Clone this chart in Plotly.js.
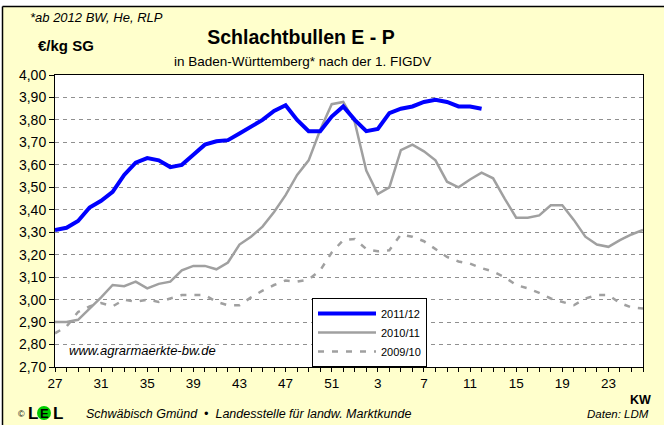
<!DOCTYPE html>
<html>
<head>
<meta charset="utf-8">
<script src="https://cdn.plot.ly/plotly-3.0.1.min.js"></script>
<style>html,body{margin:0;padding:0;background:#fff;}#chart{width:664px;height:425px;}</style>
</head>
<body>
<div id="chart"></div>
<script>
// Calendar weeks (KW) from week 27 to week 26 of the following year
const weeks = ["27","28","29","30","31","32","33","34","35","36","37","38","39","40","41","42","43","44","45","46","47","48","49","50","51","52",
               "1","2","3","4","5","6","7","8","9","10","11","12","13","14","15","16","17","18","19","20","21","22","23","24","25","26"];
const labelledWeeks = ["27","31","35","39","43","47","51","3","7","11","15","19","23"];

const seriesNames = ["2011/12", "2010/11", "2009/10"];

// 2011/12 (until KW 12)
const s2011 = [3.31,3.32,3.35,3.41,3.44,3.48,3.555,3.61,3.63,3.62,3.59,3.60,3.645,3.69,3.705,3.71,3.74,3.77,3.80,3.84,3.865,3.80,3.75,3.75,3.815,3.86,
               3.80,3.75,3.76,3.83,3.85,3.86,3.88,3.89,3.88,3.86,3.86,3.85];
// 2010/11
const s2010 = [2.90,2.90,2.91,2.96,3.01,3.065,3.06,3.08,3.05,3.07,3.08,3.13,3.15,3.15,3.135,3.165,3.245,3.28,3.325,3.39,3.465,3.555,3.62,3.755,3.87,3.88,
               3.79,3.575,3.47,3.50,3.665,3.69,3.66,3.62,3.525,3.50,3.535,3.565,3.54,3.45,3.365,3.365,3.375,3.42,3.42,3.355,3.28,3.245,3.235,3.265,3.29,3.31];
// 2009/10
const s2009 = [2.85,2.88,2.945,2.97,2.985,2.97,3.00,2.99,3.00,2.99,3.005,3.02,3.02,3.02,2.99,2.975,2.975,3.01,3.04,3.065,3.085,3.08,3.09,3.13,3.21,3.265,
               3.27,3.225,3.215,3.22,3.29,3.28,3.26,3.225,3.19,3.17,3.16,3.14,3.125,3.10,3.065,3.05,3.03,3.005,2.99,2.975,3.005,3.02,3.02,2.985,2.965,2.96];

const yTicks = [2.70,2.80,2.90,3.00,3.10,3.20,3.30,3.40,3.50,3.60,3.70,3.80,3.90,4.00];

// ---- layout geometry helpers ----
const W = 664, H = 425, L = 55, R = 643, T = 75, B = 367;
const px = x => (x - L) / (R - L);
const py = y => (B - y) / (B - T);
const FONT = "Liberation Sans, Arial, sans-serif";

const traces = [
  {x: weeks.slice(0, s2009.length), y: s2009, name: seriesNames[2], type: "scatter", mode: "lines",
   line: {color: "#a0a0a0", width: 2.5, dash: "6px,8px"}},
  {x: weeks.slice(0, s2010.length), y: s2010, name: seriesNames[1], type: "scatter", mode: "lines",
   line: {color: "#a0a0a0", width: 2.5}},
  {x: weeks.slice(0, s2011.length), y: s2011, name: seriesNames[0], type: "scatter", mode: "lines",
   line: {color: "#0000ff", width: 4}}
];

const tickText = weeks.map(w => labelledWeeks.includes(w) ? w : "");

const ann = (text, x, y, opts) => Object.assign({
  text: text, xref: "paper", yref: "paper", x: px(x), y: py(y), showarrow: false,
  xanchor: "left", yanchor: "middle", font: {family: FONT, size: 11, color: "#000"}
}, opts || {});

const layout = {
  width: W, height: H,
  margin: {l: L, r: W - R, t: T, b: H - B, pad: 0},
  paper_bgcolor: "#ffffcc",
  plot_bgcolor: "#ffffff",
  separators: ",.",
  showlegend: true,
  title: {
    text: "<b>Schlachtbullen E - P</b>",
    font: {family: FONT, size: 19.5, color: "#000"},
    xref: "paper", x: px(301), xanchor: "center",
    yref: "container", y: 1 - 37 / H, yanchor: "middle"
  },
  xaxis: {
    type: "category",
    range: [0, weeks.length - 1],
    tickmode: "array", tickvals: weeks, ticktext: tickText,
    ticks: "outside", ticklen: 4, tickcolor: "#000", tickwidth: 1,
    showline: true, linecolor: "#000", linewidth: 1, mirror: true,
    showgrid: false, zeroline: false,
    tickfont: {family: FONT, size: 13.5, color: "#000"},
    fixedrange: true
  },
  yaxis: {
    range: [2.70, 4.00],
    tickmode: "array", tickvals: yTicks, tickformat: ".2f",
    ticks: "outside", ticklen: 5, tickcolor: "#000", tickwidth: 1,
    showline: true, linecolor: "#000", linewidth: 1, mirror: true,
    showgrid: true, gridcolor: "#909090", gridwidth: 1, griddash: "4px,4px",
    zeroline: false,
    tickfont: {family: FONT, size: 14, color: "#000"},
    fixedrange: true
  },
  legend: {
    x: px(312), y: py(298), xanchor: "left", yanchor: "top",
    bgcolor: "#ffffff", bordercolor: "#000", borderwidth: 1,
    traceorder: "reversed",
    font: {family: FONT, size: 11, color: "#000"},
    itemwidth: 58, tracegroupgap: 0
  },
  shapes: [
    // white margin strips and black frame (top and left)
    {type: "rect", xref: "paper", yref: "paper", x0: px(-5), x1: px(W + 5), y0: py(6.5), y1: py(-5),
     fillcolor: "#ffffff", line: {width: 0}, layer: "below"},
    {type: "rect", xref: "paper", yref: "paper", x0: px(-5), x1: px(2.5), y0: py(H + 5), y1: py(-5),
     fillcolor: "#ffffff", line: {width: 0}, layer: "below"},
    {type: "line", xref: "paper", yref: "paper", x0: px(2.5), x1: px(W + 5), y0: py(6.5), y1: py(6.5),
     line: {color: "#000", width: 1.5}},
    {type: "line", xref: "paper", yref: "paper", x0: px(2.5), x1: px(2.5), y0: py(6.5), y1: py(H + 5),
     line: {color: "#000", width: 1.5}},
    // LEL logo circle
    {type: "circle", xref: "paper", yref: "paper", x0: px(37), x1: px(51), y0: py(406), y1: py(420),
     fillcolor: "#00cc00", line: {width: 0}}
  ],
  annotations: [
    ann("<i>*ab 2012 BW, He, RLP</i>", 28, 17, {font: {family: FONT, size: 13, color: "#000"}}),
    ann("<b>€/kg SG</b>", 36, 46, {font: {family: FONT, size: 15, color: "#000"}}),
    ann("in Baden-Württemberg* nach der 1. FIGDV", 302, 61, {xanchor: "center", font: {family: FONT, size: 13.5, color: "#000"}}),
    ann("<i>www.agrarmaerkte-bw.de</i>", 67, 350, {font: {family: FONT, size: 13, color: "#000"}}),
    ann("©", 16, 414, {font: {family: FONT, size: 9, color: "#000"}}),
    ann("<b>L</b>", 26, 413, {font: {family: FONT, size: 17, color: "#000"}}),
    ann("<b>E</b>", 44, 413, {xanchor: "center", font: {family: FONT, size: 13, color: "#000"}}),
    ann("<b>L</b>", 51, 413, {font: {family: FONT, size: 17, color: "#000"}}),
    ann("<i>Schwäbisch Gmünd  •  Landesstelle für landw. Marktkunde</i>", 84, 414, {font: {family: FONT, size: 12.5, color: "#000"}}),
    ann("<i>Daten: LDM</i>", 651, 414, {xanchor: "right", font: {family: FONT, size: 11.5, color: "#000"}}),
    ann("<b>KW</b>", 640, 400, {xanchor: "center", font: {family: FONT, size: 12.5, color: "#000"}})
  ]
};

Plotly.newPlot("chart", traces, layout, {staticPlot: true, displayModeBar: false});
</script>
</body>
</html>
